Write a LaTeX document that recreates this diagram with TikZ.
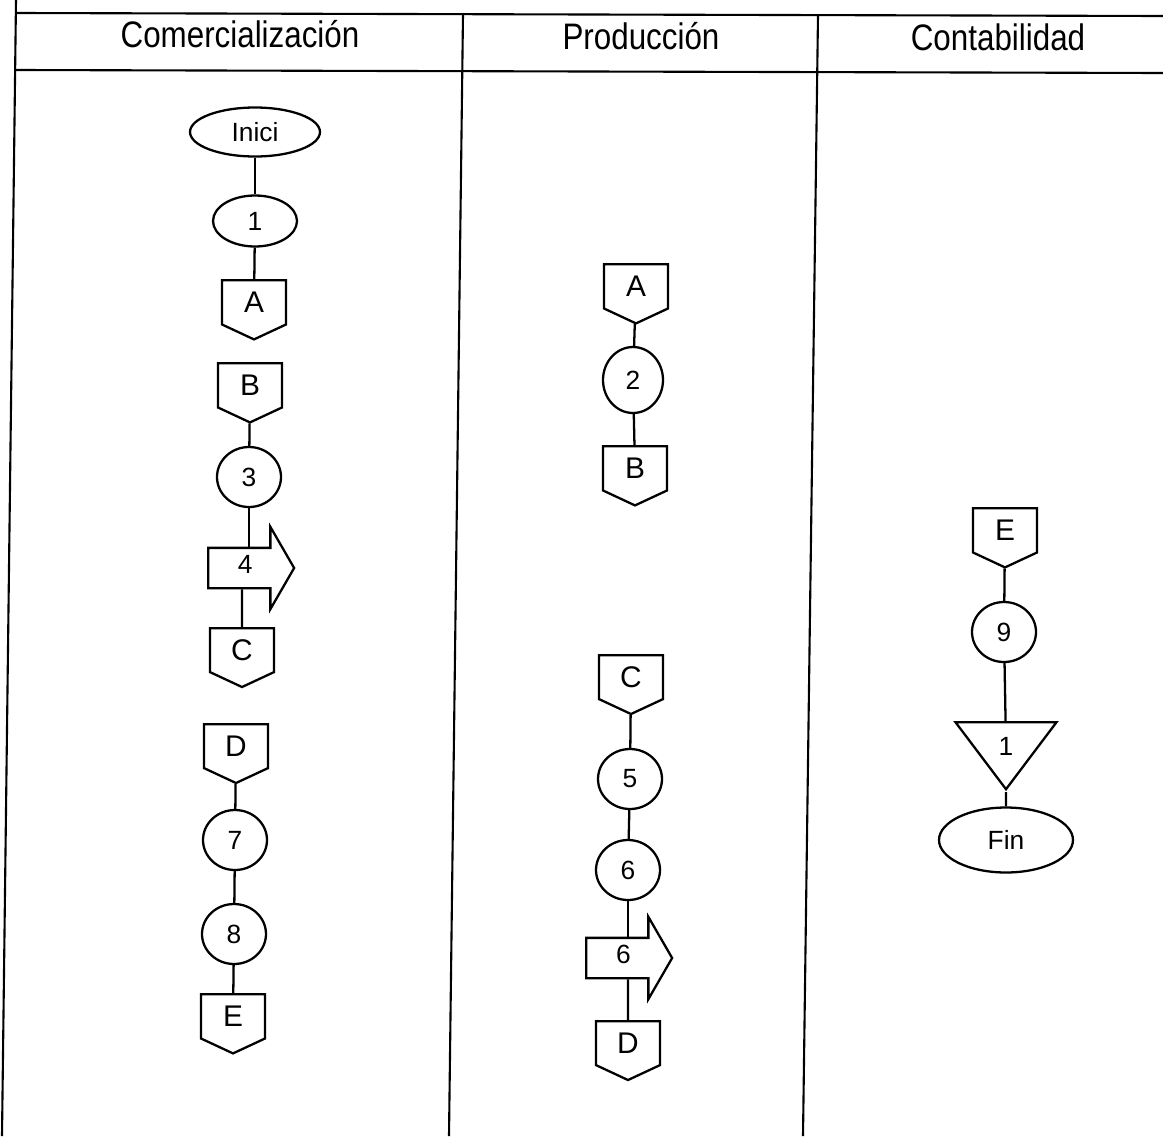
\documentclass[tikz,border=0pt]{standalone}
\usepackage{fontspec}
\setmainfont{Liberation Sans}
\usetikzlibrary{positioning,shapes}
\newcommand{\angosto}[1]{\scalebox{0.85}[1]{#1}}

\begin{document}
\begin{tikzpicture}[x=0.02cm, y=-0.02cm,
		tabla/.style = {line width=1.2pt},
		linea/.style = {line width=1.3pt},
		cab/.style = {anchor=base, font=\fontsize{21}{24}\selectfont},
		term/.style = {ellipse, draw, line width=1.3pt, inner sep=0pt, font=\fontsize{15}{17}\selectfont},
		op/.style = {ellipse, draw, line width=1.3pt, minimum width=1.28cm, minimum height=1.2cm, inner sep=0pt, font=\fontsize{15}{17}\selectfont},
		con/.style = {signal, signal to=south, signal pointer angle=130, draw, line width=1.3pt, anchor=north, minimum width=1.28cm, minimum height=0.98cm, inner sep=0pt, font=\fontsize{17}{19}\selectfont},
		tras/.style = {single arrow, single arrow head extend=0.42cm, single arrow tip angle=120, draw, line width=1.3pt, anchor=west, minimum height=1.72cm, text height=0.3cm, text depth=0.1cm, inner xsep=0pt, inner ysep=0.18cm, font=\fontsize{15}{17}\selectfont},
		alm/.style = {isosceles triangle, isosceles triangle stretches, shape border rotate=270, draw, line width=1.3pt, minimum width=2.02cm, minimum height=1.34cm, inner sep=0pt, font=\fontsize{15}{17}\selectfont}]
	\useasboundingbox (0,0) rectangle (1163,1136);

	% tabla
	\draw[tabla] (16,0) -- (2,1136);
	\draw[tabla] (16,13) -- (1163,16);
	\draw[tabla] (16,70) -- (1163,73);
	\draw[tabla] (463,14) -- (449,1136);
	\draw[tabla] (818,15) -- (803,1136);
	\node[cab] (cab1) at (240,47) {\angosto{Comercialización}};
	\node[cab] (cab2) at (641,49) {\angosto{Producción}};
	\node[cab] (cab3) at (998,50) {\angosto{Contabilidad}};

	% Comercializacion
	\node[term, minimum width=2.6cm, minimum height=0.98cm] (ini) at (255,132) {Inici};
	\node[op, minimum width=1.68cm, minimum height=1.02cm] (p1) at (255,221) {1};
	\node[con] (cA) at (254,279) {A};
	\node[con] (cB) at (250,362) {B};
	\node[op] (p3) at (249,477) {3};
	\node[tras] (t4) at (207,568) {4};
	\node[con] (cC) at (242,627) {C};
	\node[con] (cD) at (236,723) {D};
	\node[op] (p7) at (235,840) {7};
	\node[op] (p8) at (234,934) {8};
	\node[con] (cE) at (233,993) {E};

	\draw[linea] (ini) -- (p1);
	\draw[linea] (p1) -- (cA);
	\draw[linea] (cB) -- (p3);
	\draw[linea] (p3) -- (p3 |- t4.north);
	\draw[linea] (cC |- t4.south) -- (cC);
	\draw[linea] (cD) -- (p7);
	\draw[linea] (p7) -- (p8);
	\draw[linea] (p8) -- (cE);

	% Produccion
	\node[con] (cA2) at (636,263) {A};
	\node[op, minimum width=1.2cm, minimum height=1.32cm] (p2) at (633,380) {2};
	\node[con] (cB2) at (635,445) {B};
	\node[con] (cC2) at (631,654) {C};
	\node[op] (p5) at (630,779) {5};
	\node[op] (p6) at (628,870) {6};
	\node[tras] (t6) at (585,958) {6};
	\node[con] (cD2) at (628,1020) {D};

	\draw[linea] (cA2) -- (p2);
	\draw[linea] (p2) -- (cB2);
	\draw[linea] (cC2) -- (p5);
	\draw[linea] (p5) -- (p6);
	\draw[linea] (p6) -- (p6 |- t6.north);
	\draw[linea] (cD2 |- t6.south) -- (cD2);

	% Contabilidad
	\node[con] (cE3) at (1005,507) {E};
	\node[op] (p9) at (1004,632) {9};
	\node[alm] (a1) at (1006,746) {1};
	\node[term, minimum width=2.68cm, minimum height=1.3cm] (fin) at (1006,840) {Fin};

	\draw[linea] (cE3) -- (p9);
	\draw[linea] (p9) -- (a1);
	\draw[linea] (a1) -- (fin);
\end{tikzpicture}
\end{document}
